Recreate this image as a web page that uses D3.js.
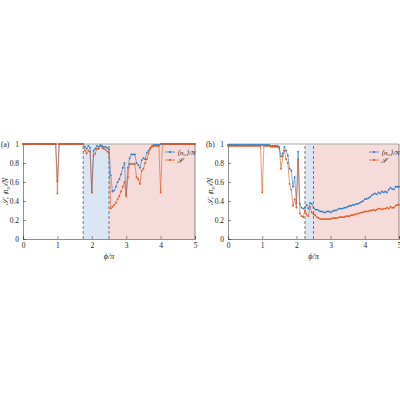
<!DOCTYPE html><html><head><meta charset="utf-8"><script src="https://d3js.org/d3.v7.min.js"></script>
<style>body{margin:0;background:#fff}</style></head><body><svg id="c" width="400" height="400"></svg>
<script>
const phi = d3.range(0, 101).map(i => i * 0.05);
const xTicks = [0,1,2,3,4,5];
const yTicks = [0,0.2,0.4,0.6,0.8,1];
// panel (a)
const aN0 = [1,1,1,1,1,1,1,1,1,1,1,1,1,1,1,1,1,1,1,1,
 0.61,1,1,1,1,1,1,1,1,1,1,1,1,1,1,1,
 0.97,0.95,0.98,0.96,0.49,0.93,0.95,0.98,0.97,0.99,0.98,0.97,0.97,0.96,0.94,
 0.67,0.50,0.51,0.55,0.60,0.63,0.68,0.75,0.80,0.47,0.75,0.85,0.89,0.89,0.89,0.80,0.78,0.75,0.83,0.85,0.84,0.91,0.93,0.96,0.98,0.99,0.99,0.99,0.99,
 1,1,1,1,1,1,1,1,1,1,1,1,1,1,1,1,1,1,1,1,1];
const aS = [1,1,1,1,1,1,1,1,1,1,1,1,1,1,1,1,1,1,1,1,
 0.48,1,1,1,1,1,1,1,1,1,1,1,1,1,1,1,
 0.93,0.90,0.93,0.92,0.49,0.88,0.90,0.95,0.95,0.98,0.96,0.95,0.94,0.92,0.90,
 0.32,0.34,0.36,0.38,0.42,0.45,0.50,0.55,0.60,0.45,0.65,0.79,0.79,0.79,0.79,0.65,0.63,0.58,0.72,0.74,0.80,0.84,0.90,0.95,0.97,0.98,0.98,0.98,0.98,
 0.49,1,1,1,1,1,1,1,1,1,1,1,1,1,1,1,1,1,1,1,1];
// panel (b)
const bN0 = [0.99,0.99,0.99,0.99,0.99,0.99,0.99,0.99,0.99,0.99,0.99,0.99,0.99,0.99,0.99,0.99,0.99,0.99,0.99,0.99,
 0.99,0.99,0.99,0.99,0.99,0.98,0.98,0.98,0.98,0.98,
 0.97,0.87,0.90,0.97,0.93,0.88,0.74,0.72,0.55,0.65,0.38,0.92,0.37,0.33,0.32,0.33,0.36,0.32,0.38,0.37,0.33,
 0.31,0.31,0.30,0.29,0.29,0.28,0.28,0.29,0.29,0.28,0.29,0.30,0.30,0.31,0.32,0.32,0.32,0.33,0.33,0.34,
 0.35,0.35,0.36,0.36,0.37,0.37,0.38,0.39,0.40,0.42,0.42,0.43,0.44,0.46,0.47,0.48,0.47,0.49,0.48,0.50,
 0.49,0.50,0.49,0.52,0.54,0.53,0.52,0.55,0.55,0.55];
const bS = [0.98,0.98,0.98,0.98,0.98,0.98,0.98,0.98,0.98,0.98,0.98,0.98,0.98,0.98,0.98,0.98,0.98,0.98,0.98,0.98,
 0.49,0.98,0.98,0.98,0.98,0.97,0.97,0.97,0.97,0.97,
 0.95,0.74,0.87,0.93,0.84,0.80,0.58,0.52,0.35,0.42,0.33,0.84,0.27,0.24,0.23,0.30,0.26,0.24,0.34,0.28,0.26,
 0.25,0.23,0.22,0.21,0.21,0.21,0.21,0.21,0.21,0.21,0.22,0.22,0.22,0.22,0.23,0.23,0.23,0.23,0.24,0.24,
 0.24,0.25,0.25,0.26,0.26,0.27,0.27,0.28,0.28,0.29,0.29,0.29,0.30,0.30,0.31,0.30,0.31,0.32,0.32,0.31,
 0.32,0.32,0.33,0.32,0.34,0.33,0.33,0.35,0.36,0.36];
const panels = [
 {label:"(a)", x0:23, x1:195, n0:aN0, s:aS, blue:[1.75,2.5], pink:[2.5,5]},
 {label:"(b)", x0:228, x1:399, n0:bN0, s:bS, blue:[2.25,2.5], pink:[2.5,5]}
];
const svg = d3.select("#c");
const BLUE="#2b7bc4", ORANGE="#e5541b", F="Liberation Serif, serif";
panels.forEach(p => {
  const x = d3.scaleLinear().domain([0,5]).range([p.x0,p.x1]);
  const y = d3.scaleLinear().domain([0,1]).range([239,144]);
  const g = svg.append("g");
  g.append("rect").attr("x",x(p.blue[0])).attr("width",x(p.blue[1])-x(p.blue[0])).attr("y",y(1)).attr("height",y(0)-y(1)).attr("fill","#dae6f4");
  g.append("rect").attr("x",x(p.pink[0])).attr("width",x(p.pink[1])-x(p.pink[0])).attr("y",y(1)).attr("height",y(0)-y(1)).attr("fill","#f5dcda");
  [p.blue[0],p.blue[1]].forEach(v=>g.append("line").attr("x1",x(v)).attr("x2",x(v)).attr("y1",y(0)).attr("y2",y(1)).attr("stroke","#444").attr("stroke-width",0.7).attr("stroke-dasharray","3,2"));
  const ax = g.append("g").attr("transform",`translate(0,${y(0)})`).call(d3.axisBottom(x).tickValues(xTicks).tickSize(-3).tickPadding(4).tickFormat(d3.format("d")));
  const ay = g.append("g").attr("transform",`translate(${x(0)},0)`).call(d3.axisLeft(y).tickValues(yTicks).tickSize(-3).tickPadding(4).tickFormat(d=>d===0||d===1?d3.format("d")(d):d3.format(".1f")(d)));
  [ax,ay].forEach(a=>{a.selectAll("text").attr("font-family",F).attr("font-size",7.5).attr("fill","#222");a.select(".domain").attr("stroke","#444").attr("stroke-width",0.6);a.selectAll(".tick line").attr("stroke","#444").attr("stroke-width",0.6);});
  g.append("line").attr("x1",x(0)).attr("x2",x(5)).attr("y1",y(1)).attr("y2",y(1)).attr("stroke","#aaa").attr("stroke-width",1.2);
  g.append("line").attr("x1",x(5)).attr("x2",x(5)).attr("y1",y(1)).attr("y2",y(0)).attr("stroke","#444").attr("stroke-width",0.6);
  [[p.n0,BLUE],[p.s,ORANGE]].forEach(([arr,col])=>{
    const pts = phi.map((v,i)=>[v,arr[i]]);
    g.append("path").datum(pts).attr("fill","none").attr("stroke",col).attr("stroke-width",0.6).attr("d",d3.line().x(d=>x(d[0])).y(d=>y(d[1])));
    g.selectAll(null).data(pts).enter().append("circle").attr("cx",d=>x(d[0])).attr("cy",d=>y(d[1])).attr("r",0.9).attr("fill",col);
  });
  const lx = x(5)-30, ly = y(1)+8;
  [[BLUE,"⟨n₀⟩/N"],[ORANGE,"𝒮"]].forEach(([col,t],i)=>{
    const yy = ly + i*8;
    g.append("line").attr("x1",lx).attr("x2",lx+10).attr("y1",yy).attr("y2",yy).attr("stroke",col).attr("stroke-width",0.7);
    g.append("circle").attr("cx",lx+5).attr("cy",yy).attr("r",1.1).attr("fill",col);
    g.append("text").attr("x",lx+12).attr("y",yy+2.5).attr("font-family",F).attr("font-style","italic").attr("font-size",7).attr("fill","#222").text(t);
  });
  g.append("text").attr("x",p.x0-22).attr("y",y(1)+3).attr("font-family",F).attr("font-size",7.5).attr("fill","#222").text(p.label);
  g.append("text").attr("x",(p.x0+p.x1)/2).attr("y",y(0)+20).attr("text-anchor","middle").attr("font-family",F).attr("font-style","italic").attr("font-size",8).attr("fill","#222").text("ϕ/π");
  g.append("text").attr("transform",`translate(${p.x0-15},${(y(0)+y(1))/2}) rotate(-90)`).attr("text-anchor","middle").attr("font-family",F).attr("font-style","italic").attr("font-size",7.5).attr("fill","#222").text("𝒮, ⟨n₀⟩/N");
});
</script></body></html>
